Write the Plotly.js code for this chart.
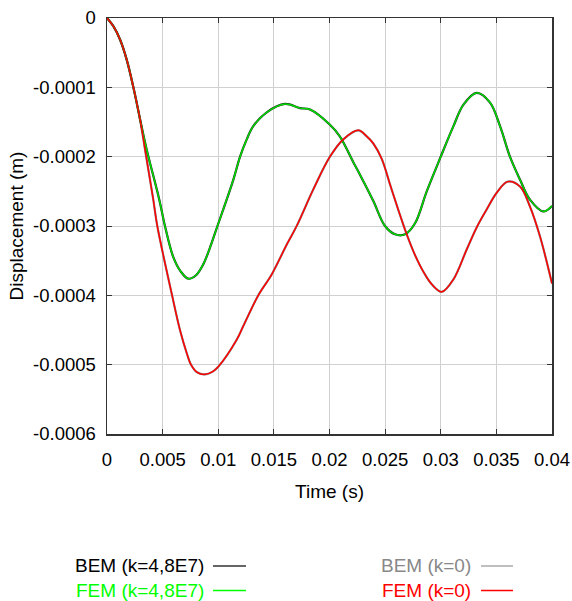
<!DOCTYPE html>
<html>
<head>
<meta charset="utf-8">
<script src="https://cdn.plot.ly/plotly-3.0.1.min.js"></script>
<style>html,body{margin:0;padding:0;background:#fff;}#chart{width:572px;height:601px;}</style>
</head>
<body>
<div id="chart"></div>
<script>
// Time (s) and displacement (m) samples
const timeK = [0, 0.00057, 0.00117, 0.00177, 0.00237, 0.00297, 0.00357, 0.0047, 0.00521, 0.00596, 0.0066, 0.00731, 0.008, 0.00866, 0.00917, 0.00993, 0.01136, 0.01196, 0.01256, 0.01315, 0.01436, 0.016, 0.01735, 0.01825, 0.02004, 0.02094, 0.02214, 0.02274, 0.02394, 0.02499, 0.02589, 0.02679, 0.02769, 0.02874, 0.03, 0.03114, 0.03204, 0.03323, 0.03443, 0.03533, 0.03622, 0.03712, 0.03802, 0.03922, 0.04];
const femK  = [0, -0.0000118, -0.000031, -0.00006, -0.0001, -0.000146, -0.00019, -0.000262, -0.0003, -0.000345, -0.000365, -0.000376, -0.000371, -0.000355, -0.000335, -0.0003, -0.000233, -0.0002, -0.000175, -0.000156, -0.000136, -0.000124, -0.00013, -0.000132, -0.000154, -0.000171, -0.000208, -0.000226, -0.000264, -0.0003, -0.000312, -0.000312, -0.000296, -0.00025, -0.0002, -0.000156, -0.000125, -0.000108, -0.000122, -0.000156, -0.0002, -0.000233, -0.000262, -0.000279, -0.000271];
const bemK  = femK.slice();

const time0 = [0, 0.00057, 0.00117, 0.00177, 0.00237, 0.00297, 0.00342, 0.00416, 0.00452, 0.00585, 0.00656, 0.0072, 0.00755, 0.0081, 0.00881, 0.0095, 0.01, 0.01166, 0.01226, 0.0136, 0.0148, 0.01615, 0.01705, 0.01855, 0.02004, 0.02124, 0.0226, 0.0233, 0.02394, 0.02469, 0.02544, 0.02619, 0.02694, 0.02769, 0.02844, 0.02919, 0.03009, 0.03114, 0.03233, 0.03323, 0.03413, 0.03503, 0.03602, 0.03712, 0.03802, 0.03892, 0.04];
const fem0  = [0, -0.0000118, -0.000031, -0.00006, -0.0001, -0.000146, -0.00019, -0.000262, -0.0003, -0.0004, -0.00045, -0.000485, -0.0005, -0.000511, -0.000514, -0.00051, -0.000503, -0.000464, -0.000444, -0.0004, -0.00037, -0.000327, -0.0003, -0.000247, -0.0002, -0.000175, -0.000162, -0.00017, -0.000181, -0.000203, -0.00024, -0.000277, -0.000312, -0.000342, -0.000366, -0.000384, -0.000395, -0.000377, -0.000334, -0.000302, -0.000276, -0.000252, -0.000236, -0.000243, -0.000272, -0.000315, -0.000383];
const bem0  = fem0.slice();

const xTicks = [0, 0.005, 0.01, 0.015, 0.02, 0.025, 0.03, 0.035, 0.04];
const xTickText = ["0", "0.005", "0.01", "0.015", "0.02", "0.025", "0.03", "0.035", "0.04"];
const yTicks = [0, -0.0001, -0.0002, -0.0003, -0.0004, -0.0005, -0.0006];
const yTickText = ["0", "-0.0001", "-0.0002", "-0.0003", "-0.0004", "-0.0005", "-0.0006"];

const seriesNames = ["BEM (k=4,8E7)", "FEM (k=4,8E7)", "BEM (k=0)", "FEM (k=0)"];
const textColors = ["#000000", "#00ff00", "#888888", "#ff0000"];
const lineColors = ["#333333", "#00ff00", "#aaaaaa", "#ff0000"];

const FONT = "Arial, 'Liberation Sans', sans-serif";

const traces = [
  {x: time0, y: bem0, name: seriesNames[2], mode: "lines", line: {color: "#888888", width: 2.2, shape: "spline", smoothing: 1}},
  {x: timeK, y: bemK, name: seriesNames[0], mode: "lines", line: {color: "#222222", width: 2.2, shape: "spline", smoothing: 1}},
  {x: timeK, y: femK, name: seriesNames[1], mode: "lines", line: {color: "#00dd00", width: 1.5, shape: "spline", smoothing: 1}},
  {x: time0, y: fem0, name: seriesNames[3], mode: "lines", line: {color: "#ff0000", width: 1.5, shape: "spline", smoothing: 1}}
];

// Legend drawn as text followed by line sample (as in the reference)
const legRows = [-0.3173, -0.3762];
const legTextX = [0.2225, 0.8225];
const legLineX = [[0.2382, 0.3124], [0.8404, 0.9124]];
const annotations = [];
const shapes = [];
seriesNames.forEach((nm, i) => {
  const col = i < 2 ? 0 : 1;
  const row = i % 2;
  annotations.push({
    text: nm, xref: "paper", yref: "paper", x: legTextX[col], y: legRows[row],
    xanchor: "right", yanchor: "middle", showarrow: false,
    font: {family: FONT, size: 19, color: textColors[i]}
  });
  shapes.push({
    type: "line", xref: "paper", yref: "paper",
    x0: legLineX[col][0], x1: legLineX[col][1], y0: legRows[row], y1: legRows[row],
    line: {color: lineColors[i], width: 1.5}
  });
});

const layout = {
  width: 572, height: 601,
  margin: {l: 107, r: 20, t: 18, b: 167},
  paper_bgcolor: "#ffffff", plot_bgcolor: "#ffffff",
  showlegend: false,
  font: {family: FONT, size: 18, color: "#000"},
  xaxis: {
    range: [0, 0.04], tickvals: xTicks, ticktext: xTickText,
    ticks: "inside", ticklen: 5, tickcolor: "#333", mirror: "ticks",
    showline: true, linecolor: "#333", linewidth: 1.5,
    showgrid: true, gridcolor: "#d0d0d0", gridwidth: 1, zeroline: false,
    tickfont: {family: FONT, size: 18.5, color: "#000"},
    ticklabelstandoff: 8,
    title: {text: "Time (s)", font: {family: FONT, size: 19, color: "#000"}, standoff: 16}
  },
  yaxis: {
    range: [-0.0006, 0], tickvals: yTicks, ticktext: yTickText,
    ticks: "inside", ticklen: 5, tickcolor: "#333", mirror: "ticks",
    showline: true, linecolor: "#333", linewidth: 1.5,
    showgrid: true, gridcolor: "#d0d0d0", gridwidth: 1, zeroline: false,
    tickfont: {family: FONT, size: 18.5, color: "#000"},
    ticklabelstandoff: 6,
    title: {text: "Displacement (m)", font: {family: FONT, size: 19, color: "#000"}, standoff: 4}
  },
  annotations: annotations,
  shapes: shapes
};

Plotly.newPlot("chart", traces, layout, {displayModeBar: false, staticPlot: true});
</script>
</body>
</html>
